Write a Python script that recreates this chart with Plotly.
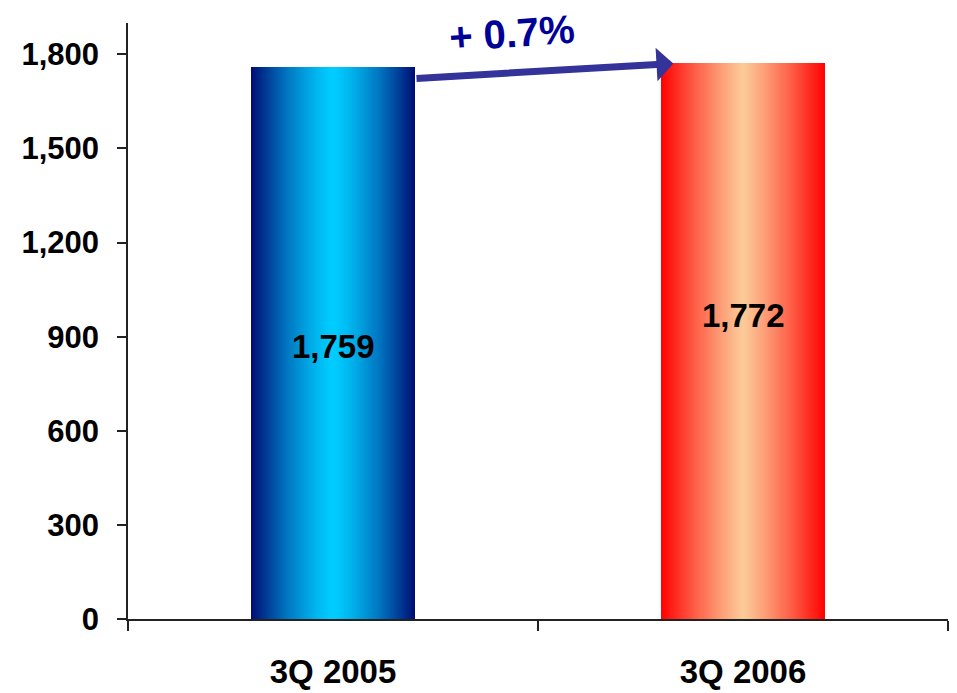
import plotly.graph_objects as go

categories = ["3Q 2005", "3Q 2006"]
values = [1759, 1772]
value_labels = ["1,759", "1,772"]
label_y = [870, 968]
y_ticks = [0, 300, 600, 900, 1200, 1500, 1800]
change_text = "+ 0.7%"

edge_colors = [(0, 12, 115), (255, 0, 0)]
center_colors = [(0, 204, 255), (252, 202, 152)]
gamma = [1.35, 1.15]

FONT = "Arial, Liberation Sans, sans-serif"
BAR_W = 0.4
N = 81
slice_w = BAR_W / N

fig = go.Figure()

def mix(c1, c2, t):
    return "rgb({},{},{})".format(*[round(a + (b - a) * t) for a, b in zip(c1, c2)])

for k in range(N):
    pos = (k + 0.5) / N
    t = abs(pos - 0.5) * 2
    cols = [mix(center_colors[i], edge_colors[i], t ** gamma[i]) for i in range(len(categories))]
    width = slice_w * 1.08 if k < N - 1 else slice_w
    fig.add_trace(go.Bar(
        x=categories, y=values,
        offset=-BAR_W / 2 + k * slice_w, width=width,
        marker=dict(color=cols, line=dict(width=0)),
        showlegend=False, hoverinfo="skip",
    ))

for i, cat in enumerate(categories):
    fig.add_annotation(x=cat, y=label_y[i], text=value_labels[i], showarrow=False,
                       font=dict(family=FONT, size=33, color="black", weight="bold"))

fig.add_annotation(x=0.83, y=1771, ax=0.2, ay=1723, xref="x", yref="y", axref="x", ayref="y",
                   text="", showarrow=True, arrowhead=1, arrowsize=0.8, arrowwidth=7,
                   arrowcolor="#333399", standoff=0, startstandoff=0)
fig.add_annotation(x=0.437, y=1868, xref="x", yref="y", text=change_text, showarrow=False,
                   textangle=-4, font=dict(family=FONT, size=40, color="#000099", weight="bold"))

# the page body has an 8px margin, so the figure is sized to fit the window from there
fig.update_layout(
    barmode="overlay",
    width=949, height=685,
    margin=dict(l=120, r=9, t=15, b=74, autoexpand=False),
    paper_bgcolor="white", plot_bgcolor="white",
    bargap=0,
)
fig.update_xaxes(
    type="category", range=[-0.5, 1.5], automargin=False,
    showline=True, linecolor="#222", linewidth=2,
    ticks="outside", tickson="boundaries", ticklen=10, tickwidth=1.5, tickcolor="#222",
    showgrid=False, zeroline=False, ticklabelstandoff=22,
    tickfont=dict(family=FONT, size=33, color="black", weight="bold"),
)
fig.update_yaxes(
    range=[0, 1900], tickvals=y_ticks, tickformat=",", automargin=False,
    showline=True, linecolor="#222", linewidth=1.5,
    ticks="outside", ticklen=9, tickwidth=1.5, tickcolor="#222",
    showgrid=False, zeroline=False, ticklabelstandoff=12,
    tickfont=dict(family=FONT, size=31, color="black", weight="bold"),
)

fig.write_html("out.html")
